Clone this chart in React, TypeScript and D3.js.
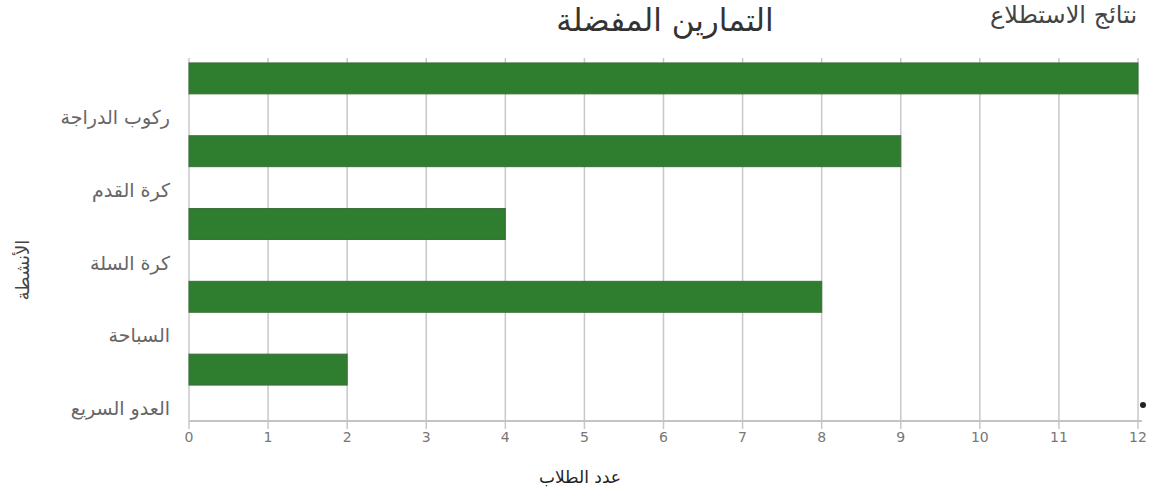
import React from "react";
import * as d3 from "d3";

const categories = ["ركوب الدراجة", "كرة القدم", "كرة السلة", "السباحة", "العدو السريع"];
const values = [12, 9, 4, 8, 2];
const xTicks = [0, 1, 2, 3, 4, 5, 6, 7, 8, 9, 10, 11, 12];
const title = "التمارين المفضلة";
const cornerText = "نتائج الاستطلاع";
const xTitle = "عدد الطلاب";
const yTitle = "الأنشطة";

const W = 1151;
const H = 497;
const FONT = "'DejaVu Sans', 'Noto Sans', sans-serif";

export default function App() {
  const x = d3.scaleLinear().domain([0, 12]).range([189, 1138]);
  const y = d3
    .scaleBand<string>()
    .domain(categories)
    .range([42, 406])
    .paddingInner(0.575)
    .paddingOuter(0.2875);
  const axisY = 421;
  const gridTop = 58;

  return (
    <svg
      width={W}
      height={H}
      style={{ position: "absolute", left: 0, top: 0, background: "#fff" }}
      fontFamily={FONT}
    >
      <rect x={0} y={0} width={W} height={H} fill="#fff" />
      {/* gridlines */}
      {xTicks.map((t) => (
        <line
          key={"g" + t}
          x1={x(t)}
          x2={x(t)}
          y1={gridTop}
          y2={axisY + 8}
          stroke="#c8c8c8"
          strokeWidth={1.5}
        />
      ))}
      <line x1={x(0)} x2={x(12) + 4} y1={axisY} y2={axisY} stroke="#c4c4c4" strokeWidth={2} />
      {/* bars */}
      {categories.map((c, i) => (
        <rect
          key={c}
          x={x(0)}
          y={y(c)}
          width={x(values[i]) - x(0)}
          height={y.bandwidth()}
          fill="#2f7d2f"
          stroke="#3b6e3b"
          strokeWidth={1}
        />
      ))}
      {/* y labels, sitting below each bar */}
      {categories.map((c) => (
        <text
          key={"l" + c}
          x={170}
          y={(y(c) as number) + y.bandwidth() / 2 + y.step() * 0.55}
          textAnchor="end"
          dominantBaseline="middle"
          fontSize={19}
          fill="#666"
        >
          {c}
        </text>
      ))}
      {/* x tick labels */}
      {xTicks.map((t) => (
        <text
          key={"t" + t}
          x={x(t)}
          y={438}
          textAnchor="middle"
          dominantBaseline="middle"
          fontSize={14}
          fill="#777"
        >
          {t}
        </text>
      ))}
      <text x={580} y={478} textAnchor="middle" dominantBaseline="middle" fontSize={17} fill="#222">
        {xTitle}
      </text>
      <text
        transform={`translate(24, 270) rotate(-90)`}
        textAnchor="middle"
        dominantBaseline="middle"
        fontSize={18}
        fill="#444"
      >
        {yTitle}
      </text>
      <text x={665} y={22} textAnchor="middle" dominantBaseline="middle" fontSize={31} fill="#333">
        {title}
      </text>
      <text x={990} y={16} textAnchor="start" dominantBaseline="middle" fontSize={24} fill="#444">
        {cornerText}
      </text>
      <circle cx={1143} cy={405} r={3} fill="#222" />
    </svg>
  );
}
